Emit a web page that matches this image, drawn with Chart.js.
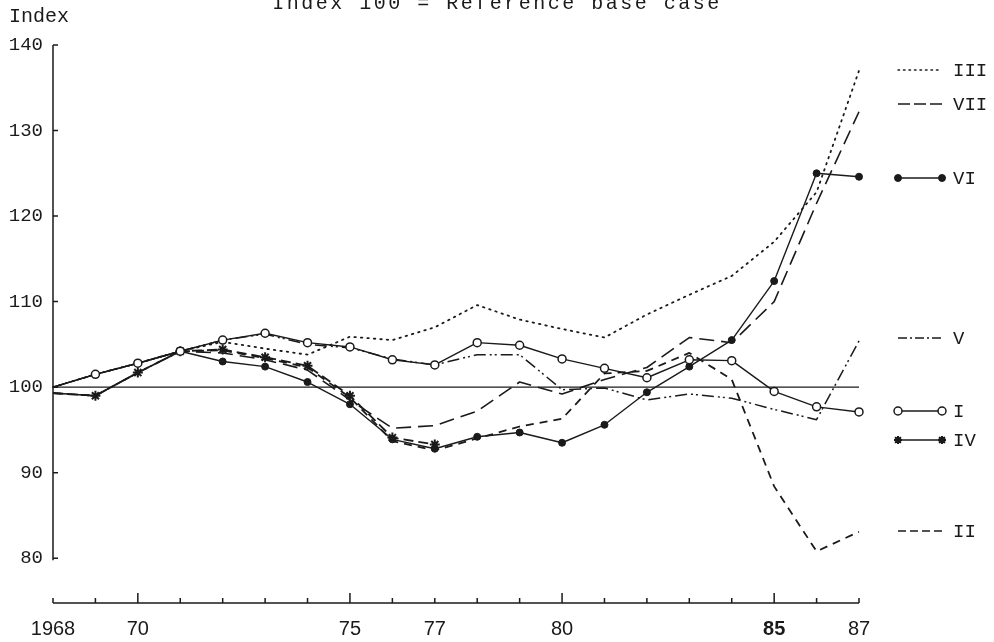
<!DOCTYPE html>
<html>
<head>
<meta charset="utf-8">
<script src="https://cdn.jsdelivr.net/npm/chart.js@4.4.1/dist/chart.umd.min.js"></script>
<style>
  html, body { margin: 0; padding: 0; background: #fff; }
</style>
</head>
<body>
<canvas id="chart" width="994" height="642"></canvas>
<script>
// years on the x axis
const years = [1968, 1969, 1970, 1971, 1972, 1973, 1974, 1975, 1976, 1977,
               1978, 1979, 1980, 1981, 1982, 1983, 1984, 1985, 1986, 1987];
const labelYears = [1968, 1970, 1975, 1977, 1980, 1985, 1987];
const labelTexts = ['1968', '70', '75', '77', '80', '85', '87'];
const yTicks = [80, 90, 100, 110, 120, 130, 140];

// index values, 100 = reference base case
const seriesI   = [100.0, 101.5, 102.8, 104.2, 105.5, 106.3, 105.2, 104.7, 103.2, 102.6,
                   105.2, 104.9, 103.3, 102.2, 101.1, 103.2, 103.1, 99.5, 97.7, 97.1];
const seriesII  = [99.3, 99.0, 101.7, 104.2, 104.3, 103.4, 102.3, 98.8, 93.7, 92.6,
                   94.0, 95.4, 96.3, 101.6, 101.9, 104.0, 100.9, 88.4, 80.8, 83.1];
const seriesIII = [100.0, 101.5, 102.8, 104.2, 105.3, 104.5, 103.8, 105.9, 105.5, 107.0,
                   109.6, 107.9, 106.8, 105.8, 108.5, 110.8, 113.0, 117.0, 122.8, 137.0];
const seriesIV  = [99.3, 99.0, 101.7, 104.2, 104.4, 103.5, 102.5, 99.0, 94.1, 93.3,
                   null, null, null, null, null, null, null, null, null, null];
const seriesV   = [100.0, 101.5, 102.8, 104.2, 105.5, 106.2, 105.0, 104.6, 103.3, 102.6,
                   103.8, 103.8, 99.7, 99.9, 98.5, 99.2, 98.7, 97.4, 96.2, 105.4];
const seriesVI  = [100.0, 101.5, 102.8, 104.2, 103.0, 102.4, 100.6, 98.0, 93.9, 92.8,
                   94.2, 94.7, 93.5, 95.6, 99.4, 102.4, 105.5, 112.4, 125.0, 124.6];
const seriesVII = [99.3, 99.0, 101.7, 104.2, 104.0, 103.2, 102.0, 98.5, 95.2, 95.5,
                   97.2, 100.6, 99.2, 100.9, 102.3, 105.8, 105.2, 110.0, 121.5, 132.2];

const ink = '#1a1a1a';
const mono = '"Liberation Mono", "DejaVu Sans Mono", monospace';

function pts(arr) {
  return years.map((y, i) => ({ x: y, y: arr[i] }));
}
function radii(r) {
  return years.map((y, i) => (i === 0 ? 0 : r));
}

const datasets = [
  { label: 'I', data: pts(seriesI), order: 0, borderWidth: 1.4, borderDash: [], legendDash: [],
    pointStyle: 'circle', pointRadius: radii(4), pointBackgroundColor: '#fff', pointBorderWidth: 1.5 },
  { label: 'VI', data: pts(seriesVI), order: 1, borderWidth: 1.4, borderDash: [], legendDash: [],
    pointStyle: 'circle', pointRadius: radii(3.5), pointBackgroundColor: ink, pointBorderWidth: 1 },
  { label: 'IV', data: pts(seriesIV), order: 2, borderWidth: 1.8, borderDash: [10, 5], legendDash: [],
    pointStyle: 'star', pointRadius: radii(5), pointBorderWidth: 2 },
  { label: 'II', data: pts(seriesII), order: 3, borderWidth: 1.8, borderDash: [8, 6], legendDash: [8, 4],
    pointRadius: 0 },
  { label: 'VII', data: pts(seriesVII), order: 4, borderWidth: 1.6, borderDash: [15, 7], legendDash: [12, 4],
    pointRadius: 0 },
  { label: 'V', data: pts(seriesV), order: 5, borderWidth: 1.5, borderDash: [12, 4, 2, 3, 2, 4],
    legendDash: [9, 3, 2, 3], pointRadius: 0 },
  { label: 'III', data: pts(seriesIII), order: 6, borderWidth: 1.8, borderDash: [1.5, 5],
    legendDash: [1.5, 4], borderCapStyle: 'round', pointRadius: 0 }
].map(d => Object.assign({
  borderColor: ink, pointBorderColor: ink, tension: 0, spanGaps: false, clip: false,
  borderJoinStyle: 'round'
}, d));

// legend entries down the right side
const legendRows = [
  { name: 'III', y: 70 }, { name: 'VII', y: 104 }, { name: 'VI', y: 178 },
  { name: 'V', y: 338 }, { name: 'I', y: 411 }, { name: 'IV', y: 440 }, { name: 'II', y: 531 }
];

const axesPlugin = {
  id: 'axesPlugin',
  beforeDatasetsDraw(chart) {
    const { ctx, chartArea: a, scales: { x, y } } = chart;
    ctx.save();
    ctx.strokeStyle = ink;
    ctx.lineWidth = 1.5;
    // y axis from 140 down to 80
    const yTop = y.getPixelForValue(140), yBot = y.getPixelForValue(80);
    ctx.beginPath();
    ctx.moveTo(a.left, yTop); ctx.lineTo(a.left, yBot + 2);
    yTicks.forEach(v => {
      const py = y.getPixelForValue(v);
      ctx.moveTo(a.left, py); ctx.lineTo(a.left + 5, py);
    });
    ctx.stroke();
    // reference line at 100
    ctx.lineWidth = 1.2;
    const p100 = y.getPixelForValue(100);
    ctx.beginPath();
    ctx.moveTo(a.left, p100); ctx.lineTo(a.right, p100);
    ctx.stroke();
    // x axis with upward ticks
    const base = a.bottom + 2;
    ctx.lineWidth = 1.5;
    ctx.beginPath();
    ctx.moveTo(a.left, base); ctx.lineTo(x.getPixelForValue(1987), base);
    years.forEach(yr => {
      const px = x.getPixelForValue(yr);
      const len = (yr % 5 === 0) ? 10 : 5;
      ctx.moveTo(px, base); ctx.lineTo(px, base - len);
    });
    ctx.stroke();
    ctx.restore();
  },
  afterDraw(chart) {
    const { ctx } = chart;
    ctx.save();
    ctx.fillStyle = ink;
    ctx.font = '20px ' + mono;
    ctx.textBaseline = 'alphabetic';
    ctx.textAlign = 'left';
    ctx.fillText('Index', 9, 22);
    ctx.textAlign = 'center';
    if ('letterSpacing' in ctx) ctx.letterSpacing = '2.5px';
    ctx.fillText('Index 100 = Reference base case', 497, 9);
    if ('letterSpacing' in ctx) ctx.letterSpacing = '0px';

    // legend
    const x0 = 898, x1 = 942;
    ctx.font = '19px ' + mono;
    ctx.textAlign = 'left';
    ctx.textBaseline = 'middle';
    legendRows.forEach(row => {
      const ds = datasets.find(d => d.label === row.name);
      ctx.strokeStyle = ink;
      ctx.lineWidth = Math.min(ds.borderWidth, 1.5);
      ctx.lineCap = ds.borderCapStyle || 'butt';
      ctx.setLineDash(ds.legendDash);
      ctx.beginPath();
      ctx.moveTo(x0, row.y); ctx.lineTo(x1, row.y);
      ctx.stroke();
      ctx.setLineDash([]);
      ctx.lineCap = 'butt';
      if (ds.pointStyle) {
        const r = ds.pointRadius[1];
        [x0, x1].forEach(px => {
          if (ds.pointStyle === 'circle') {
            ctx.fillStyle = ds.pointBackgroundColor;
            ctx.lineWidth = ds.pointBorderWidth;
            ctx.beginPath(); ctx.arc(px, row.y, r, 0, Math.PI * 2);
            ctx.fill(); ctx.stroke();
          } else {
            Chart.helpers.drawPoint(ctx, {
              pointStyle: ds.pointStyle, radius: r - 1, borderWidth: ds.pointBorderWidth, rotation: 0
            }, px, row.y);
            ctx.lineWidth = ds.pointBorderWidth;
            ctx.stroke();
          }
        });
      }
      ctx.fillStyle = ink;
      ctx.fillText(row.name, 953, row.y + 1);
    });
    ctx.restore();
  }
};

new Chart(document.getElementById('chart'), {
  type: 'line',
  data: { datasets },
  options: {
    responsive: false,
    animation: false,
    events: [],
    layout: { padding: { top: 45, right: 135, left: 0, bottom: 0 } },
    plugins: { legend: { display: false }, tooltip: { enabled: false }, title: { display: false } },
    scales: {
      x: {
        type: 'linear', min: 1968, max: 1987,
        border: { display: false },
        grid: { display: false, drawTicks: false },
        afterBuildTicks: s => { s.ticks = years.map(v => ({ value: v })); },
        afterFit: s => { s.height = 41; },
        ticks: {
          autoSkip: false, maxRotation: 0, padding: 16, color: ink,
          font: c => ({ family: '"Liberation Sans", Arial, sans-serif', size: 20,
                        weight: (c.tick && c.tick.value === 1985) ? 'bold' : 'normal' }),
          callback: v => {
            const i = labelYears.indexOf(v);
            return i >= 0 ? labelTexts[i] : '';
          }
        }
      },
      y: {
        min: 75, max: 140,
        border: { display: false },
        grid: { display: false, drawTicks: false },
        afterBuildTicks: s => { s.ticks = yTicks.map(v => ({ value: v })); },
        afterFit: s => { s.width = 53; },
        ticks: { padding: 10, color: ink, font: { family: mono, size: 19 } }
      }
    }
  },
  plugins: [axesPlugin]
});
</script>
</body>
</html>
